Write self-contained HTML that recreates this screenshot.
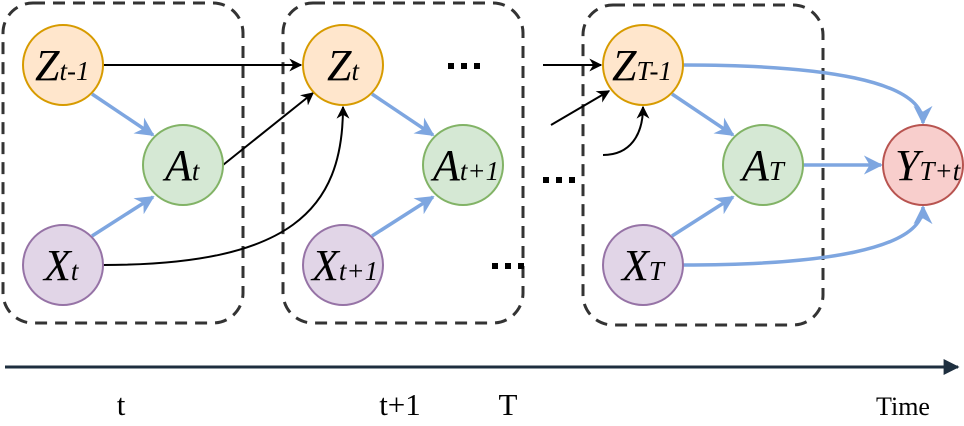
<!DOCTYPE html>
<html><head><style>
body{margin:0;background:#fff;}
svg{display:block}
text{font-family:"Liberation Serif",serif;fill:#000}
.n{font-style:italic;font-size:44px}
.s{font-size:27px}
.a{font-style:normal;font-size:31px}
</style></head><body>
<svg width="964" height="426" viewBox="0 0 964 426" xmlns="http://www.w3.org/2000/svg">
<defs>
<marker id="bk" viewBox="0 0 10 10" refX="9" refY="5" markerWidth="13" markerHeight="13" orient="auto" markerUnits="userSpaceOnUse"><path d="M0,0 L10,5 L0,10 L3,5 z" fill="#000"/></marker>
<marker id="bl" viewBox="0 0 10 10" refX="9" refY="5" markerWidth="19" markerHeight="19" orient="auto" markerUnits="userSpaceOnUse"><path d="M0,0 L10,5 L0,10 L3,5 z" fill="#7ea6e0"/></marker>
<marker id="ax" viewBox="0 0 10 10" refX="9" refY="5" markerWidth="16" markerHeight="16" orient="auto" markerUnits="userSpaceOnUse"><path d="M0,0 L10,5 L0,10 z" fill="#1e2f3f"/></marker>
</defs>
<g fill="none" stroke="#333" stroke-width="3" stroke-dasharray="12 8">
<rect x="3" y="3" width="240" height="320" rx="30"/>
<rect x="283" y="3" width="240" height="320" rx="30"/>
<rect x="583" y="5" width="240" height="320" rx="30"/>
</g>
<g fill="#000">
<rect x="448" y="63" width="6" height="6"/><rect x="461" y="63" width="6" height="6"/><rect x="474" y="63" width="6" height="6"/>
<rect x="543" y="177" width="6" height="6"/><rect x="556" y="177" width="6" height="6"/><rect x="569" y="177" width="6" height="6"/>
<rect x="492" y="263" width="6" height="6"/><rect x="505" y="263" width="6" height="6"/><rect x="518" y="263" width="6" height="6"/>
</g>
<g fill="none" stroke="#7ea6e0" stroke-width="3.5">
<path d="M92,94 L153,135" marker-end="url(#bl)"/>
<path d="M92,236 L153,197" marker-end="url(#bl)"/>
<path d="M372,94 L433,135" marker-end="url(#bl)"/>
<path d="M372,236 L433,197" marker-end="url(#bl)"/>
<path d="M672,94 L733,135" marker-end="url(#bl)"/>
<path d="M672,236 L733,197" marker-end="url(#bl)"/>
<path d="M803,165 L881,165" marker-end="url(#bl)"/>
<path d="M683,65 C820,65 923,80 923,123" marker-end="url(#bl)"/>
<path d="M683,265 C820,265 923,250 923,207" marker-end="url(#bl)"/>
</g>
<g fill="none" stroke="#000" stroke-width="2">
<path d="M103,65 L301,65" marker-end="url(#bk)"/>
<path d="M223,165 L313,93" marker-end="url(#bk)"/>
<path d="M103,265 C290,265 343,210 343,107" marker-end="url(#bk)"/>
<path d="M543,65 L601,65" marker-end="url(#bk)"/>
<path d="M551,125 L609,91" marker-end="url(#bk)"/>
<path d="M603,155 C630,155 643,135 643,107" marker-end="url(#bk)"/>
</g>
<g stroke-width="2">
<circle cx="63" cy="65" r="40" fill="#ffe6cc" stroke="#d79b00"/>
<circle cx="343" cy="65" r="40" fill="#ffe6cc" stroke="#d79b00"/>
<circle cx="643" cy="65" r="40" fill="#ffe6cc" stroke="#d79b00"/>
<circle cx="183" cy="165" r="40" fill="#d5e8d4" stroke="#82b366"/>
<circle cx="463" cy="165" r="40" fill="#d5e8d4" stroke="#82b366"/>
<circle cx="763" cy="165" r="40" fill="#d5e8d4" stroke="#82b366"/>
<circle cx="63" cy="265" r="40" fill="#e1d5e7" stroke="#9673a6"/>
<circle cx="343" cy="265" r="40" fill="#e1d5e7" stroke="#9673a6"/>
<circle cx="643" cy="265" r="40" fill="#e1d5e7" stroke="#9673a6"/>
<circle cx="923" cy="165" r="40" fill="#f8cecc" stroke="#b85450"/>
</g>
<text class="n" x="35" y="80">Z<tspan class="s">t-1</tspan></text>
<text class="n" x="327" y="80">Z<tspan class="s">t</tspan></text>
<text class="n" x="612" y="80">Z<tspan class="s">T-1</tspan></text>
<text class="n" x="165" y="180">A<tspan class="s">t</tspan></text>
<text class="n" x="433" y="180">A<tspan class="s">t+1</tspan></text>
<text class="n" x="742" y="180">A<tspan class="s">T</tspan></text>
<text class="n" x="44" y="280">X<tspan class="s">t</tspan></text>
<text class="n" x="312" y="280">X<tspan class="s">t+1</tspan></text>
<text class="n" x="622" y="280">X<tspan class="s">T</tspan></text>
<text class="n" x="895" y="180">Y<tspan class="s">T+t</tspan></text>
<path d="M5,367 L958,367" stroke="#1e2f3f" stroke-width="3" marker-end="url(#ax)"/>
<text class="a" x="121" y="415" text-anchor="middle">t</text>
<text class="a" x="400" y="415" text-anchor="middle">t+1</text>
<text class="a" x="508" y="415" text-anchor="middle">T</text>
<text class="a" x="903" y="415" text-anchor="middle" style="font-size:26px">Time</text>
</svg>
</body></html>
